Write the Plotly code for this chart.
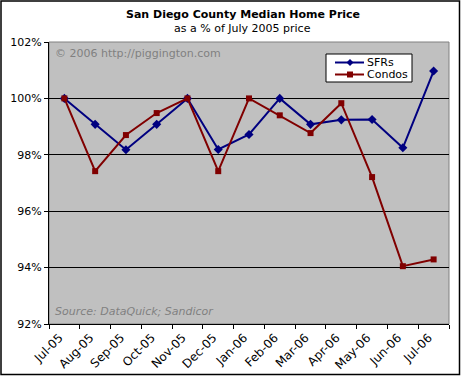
import plotly.graph_objects as go

months = ["Jul-05", "Aug-05", "Sep-05", "Oct-05", "Nov-05", "Dec-05", "Jan-06",
          "Feb-06", "Mar-06", "Apr-06", "May-06", "Jun-06", "Jul-06"]
sfrs = [100.0, 99.08, 98.18, 99.08, 100.0, 98.19, 98.72, 100.0, 99.08, 99.24, 99.25, 98.25, 100.97]
condos = [100.0, 97.42, 98.7, 99.48, 100.0, 97.42, 100.0, 99.4, 98.77, 99.83, 97.21, 94.05, 94.29]
y_ticks = [92, 94, 96, 98, 100, 102]
series_names = ["SFRs", "Condos"]
series_colors = ["#000080", "#800000"]

FONT = "DejaVu Sans"
W, H = 461, 376
L, R, T, B = 49, 12, 42, 52
pw, ph = W - L - R, H - T - B


def px(x):
    return (x - L) / pw


def py(y):
    return (H - B - y) / ph


fig = go.Figure()
fig.add_trace(go.Scatter(x=months, y=sfrs, name=series_names[0], mode="lines+markers",
                         line=dict(color=series_colors[0], width=2),
                         marker=dict(symbol="diamond", size=7, color=series_colors[0])))
fig.add_trace(go.Scatter(x=months, y=condos, name=series_names[1], mode="lines+markers",
                         line=dict(color=series_colors[1], width=2),
                         marker=dict(symbol="square", size=6, color=series_colors[1])))

# legend (drawn compactly, like the original)
leg_shapes = [
    dict(type="rect", xref="paper", yref="paper", x0=px(326), x1=px(412), y0=py(82), y1=py(54),
         fillcolor="white", line=dict(color="black", width=1)),
]
leg_ann = []
for i, (nm, col) in enumerate(zip(series_names, series_colors)):
    yy = 62.5 + 12 * i
    leg_shapes.append(dict(type="line", xref="paper", yref="paper", x0=px(335), x1=px(364),
                           y0=py(yy), y1=py(yy), line=dict(color=col, width=2)))
    if i == 0:
        path = (f"M {px(350)},{py(yy - 3.5)} L {px(353.5)},{py(yy)} "
                f"L {px(350)},{py(yy + 3.5)} L {px(346.5)},{py(yy)} Z")
        leg_shapes.append(dict(type="path", xref="paper", yref="paper", path=path,
                               fillcolor=col, line=dict(color=col, width=0)))
    else:
        leg_shapes.append(dict(type="rect", xref="paper", yref="paper",
                               x0=px(347), x1=px(353), y0=py(yy + 3), y1=py(yy - 3),
                               fillcolor=col, line=dict(color=col, width=0)))
    leg_ann.append(dict(text=nm, xref="paper", yref="paper", x=px(365), y=py(yy),
                        xanchor="left", yanchor="middle", showarrow=False,
                        font=dict(family=FONT, size=11, color="black")))

fig.update_layout(
    width=W, height=H,
    margin=dict(l=L, r=R, t=T, b=B, autoexpand=False),
    paper_bgcolor="white", plot_bgcolor="#C0C0C0",
    font=dict(family=FONT, size=10, color="black"),
    showlegend=False,
    xaxis=dict(type="category", range=[-0.5, len(months) - 0.5], tickson="boundaries",
               ticks="outside", ticklen=4, tickcolor="black", tickangle=-45,
               ticklabelshift=-5, ticklabelstandoff=1,
               showline=True, linecolor="black", linewidth=1, showgrid=False,
               automargin=False,
               tickfont=dict(family=FONT, size=12), fixedrange=True),
    yaxis=dict(range=[92, 102], tickvals=y_ticks, ticktext=[f"{v}%" for v in y_ticks],
               ticks="outside", ticklen=4, tickcolor="black",
               showline=True, linecolor="black", linewidth=1, automargin=False,
               showgrid=True, gridcolor="black", gridwidth=1, zeroline=False,
               tickfont=dict(family=FONT, size=11), fixedrange=True),
    annotations=[
        dict(text="<b>San Diego County Median Home Price</b>", xref="paper", yref="paper",
             x=px(242.5), y=py(14), xanchor="center", yanchor="middle",
             showarrow=False, font=dict(family=FONT, size=11, color="black")),
        dict(text="as a % of July 2005 price", xref="paper", yref="paper",
             x=px(242.5), y=py(29), xanchor="center", yanchor="middle",
             showarrow=False, font=dict(family=FONT, size=11, color="black")),
        dict(text="© 2006 http://piggington.com", xref="paper", yref="paper",
             x=px(53), y=py(53), xanchor="left", yanchor="middle",
             showarrow=False, font=dict(family=FONT, size=11, color="#808080")),
        dict(text="<i>Source: DataQuick; Sandicor</i>", xref="paper", yref="paper",
             x=px(53), y=py(311), xanchor="left", yanchor="middle",
             showarrow=False, font=dict(family=FONT, size=11, color="#808080")),
    ] + leg_ann,
    shapes=[
        dict(type="rect", xref="paper", yref="paper", x0=0, x1=1, y0=0, y1=1,
             line=dict(color="#808080", width=1), layer="below"),
        dict(type="rect", xref="paper", yref="paper",
             x0=px(1), x1=px(W - 1.5), y0=py(H - 1.5), y1=py(1),
             line=dict(color="black", width=1.5)),
    ] + leg_shapes,
)

fig.write_html("out.html", config={"displayModeBar": False},
               post_script="document.body.style.margin='0';document.body.style.overflow='hidden';")
